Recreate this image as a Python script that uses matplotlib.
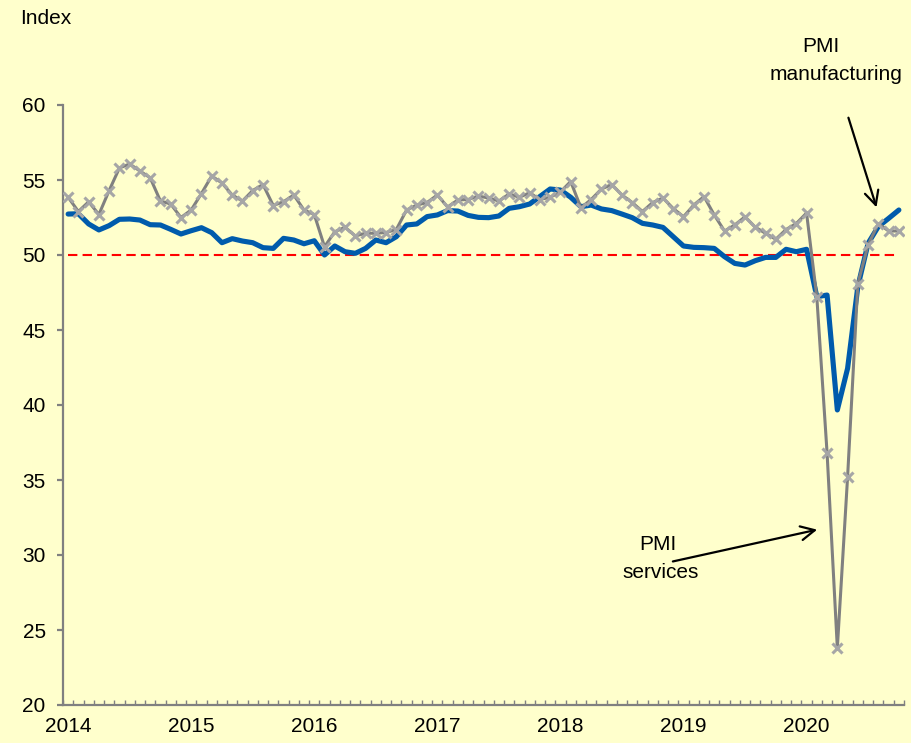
import numpy as np
import matplotlib.pyplot as plt

plt.rcParams['font.family'] = ['Liberation Sans', 'DejaVu Sans']

# monthly data, Jan 2014 - Oct 2020
years = ['2014', '2015', '2016', '2017', '2018', '2019', '2020']

pmi_services = [53.85, 52.9, 53.55, 52.7, 54.3, 55.8, 56.07, 55.6, 55.15, 53.6, 53.4, 52.5,
                53.0, 54.1, 55.27, 54.8, 54.0, 53.6, 54.3, 54.7, 53.3, 53.55, 54.0, 53.0,
                52.7, 50.55, 51.55, 51.85, 51.27, 51.45, 51.45, 51.5, 51.7, 53.0, 53.33, 53.5,
                54.0, 53.2, 53.67, 53.7, 53.93, 53.8, 53.6, 54.07, 53.85, 54.15, 53.7, 53.85,
                54.2, 54.9, 53.15, 53.7, 54.4, 54.7, 54.0, 53.5, 52.9, 53.5, 53.8, 53.1,
                52.55, 53.33, 53.9, 52.67, 51.6, 52.0, 52.55, 51.85, 51.45, 51.05, 51.7, 52.1,
                52.8, 47.2, 36.8, 23.8, 35.2, 48.1, 50.67, 52.1, 51.6, 51.6]

pmi_manufacturing = [52.73, 52.75, 52.07, 51.67, 51.96, 52.38, 52.4, 52.33, 52.02, 52.0, 51.71, 51.4,
                     51.62, 51.82, 51.49, 50.82, 51.09, 50.93, 50.82, 50.49, 50.44, 51.11, 51.0, 50.75,
                     50.95, 50.0, 50.6, 50.22, 50.11, 50.44, 51.0, 50.82, 51.22, 52.0, 52.07, 52.56,
                     52.67, 52.96, 52.93, 52.64, 52.51, 52.49, 52.6, 53.11, 53.22, 53.4, 53.9, 54.4,
                     54.33, 53.85, 53.22, 53.33, 53.07, 52.96, 52.73, 52.49, 52.11, 52.0, 51.84, 51.22,
                     50.6, 50.51, 50.49, 50.44, 49.89, 49.44, 49.33, 49.62, 49.84, 49.84, 50.38, 50.22,
                     50.38, 47.22, 47.33, 39.67, 42.44, 47.9, 50.78, 51.9, 52.44, 53.0]

threshold = 50

months = np.arange(len(pmi_services))
bg = '#ffffcc'

fig = plt.figure(figsize=(9.12, 7.43), dpi=100, facecolor=bg)
ax = fig.add_axes([63/912, 1-705/743, 841/912, 600/743], facecolor=bg)

ax.plot(months, [threshold]*len(months), color='#ff0000', lw=1.5, dashes=(4.5, 2.5), zorder=1)
ax.plot(months, pmi_manufacturing, color='#005bac', lw=3.7, solid_capstyle='round',
        solid_joinstyle='round', zorder=2)
ax.plot(months, pmi_services, color='#808080', lw=2.2, marker='x', ms=6.5, mew=2.2,
        mec='#a6a6a6', zorder=3)

ax.set_xlim(-0.5, len(months)-0.5)
ax.set_ylim(20, 60)
ax.set_yticks(np.arange(20, 61, 5))
ax.set_xticks(np.arange(0, len(months), 12))
ax.set_xticklabels(years)
ax.set_xticks(np.arange(len(months)+1)-0.5, minor=True)

for s in ['top', 'right']:
    ax.spines[s].set_visible(False)
for s in ['left', 'bottom']:
    ax.spines[s].set_color('#808080')
    ax.spines[s].set_linewidth(1.6)

ax.tick_params(axis='y', length=4.5, width=1.6, color='#808080', pad=8, labelsize=15)
ax.tick_params(axis='x', which='major', length=0, pad=9, labelsize=15)
ax.tick_params(axis='x', which='minor', direction='in', length=3.5, width=1, color='#808080')

fig.text(20/912, 1-18/743, 'Index', fontsize=15, ha='left', va='center')

# labels and arrows
ax.text(57.5, 30.67, 'PMI', fontsize=15, ha='center', va='center')
ax.text(57.8, 28.8, 'services', fontsize=15, ha='center', va='center')
ax.annotate('', xy=(73.3, 31.73), xytext=(58.7, 29.53),
            arrowprops=dict(arrowstyle='->', color='black', lw=1.6, mutation_scale=25))

ax.text(73.4, 63.9, 'PMI', fontsize=15, ha='center', va='center', clip_on=False)
ax.text(74.9, 62.0, 'manufacturing', fontsize=15, ha='center', va='center', clip_on=False)
ax.annotate('', xy=(78.9, 53.0), xytext=(76.0, 59.33), annotation_clip=False,
            arrowprops=dict(arrowstyle='->', color='black', lw=1.6, mutation_scale=25))

fig.savefig('out.png', dpi=100, facecolor=bg)
